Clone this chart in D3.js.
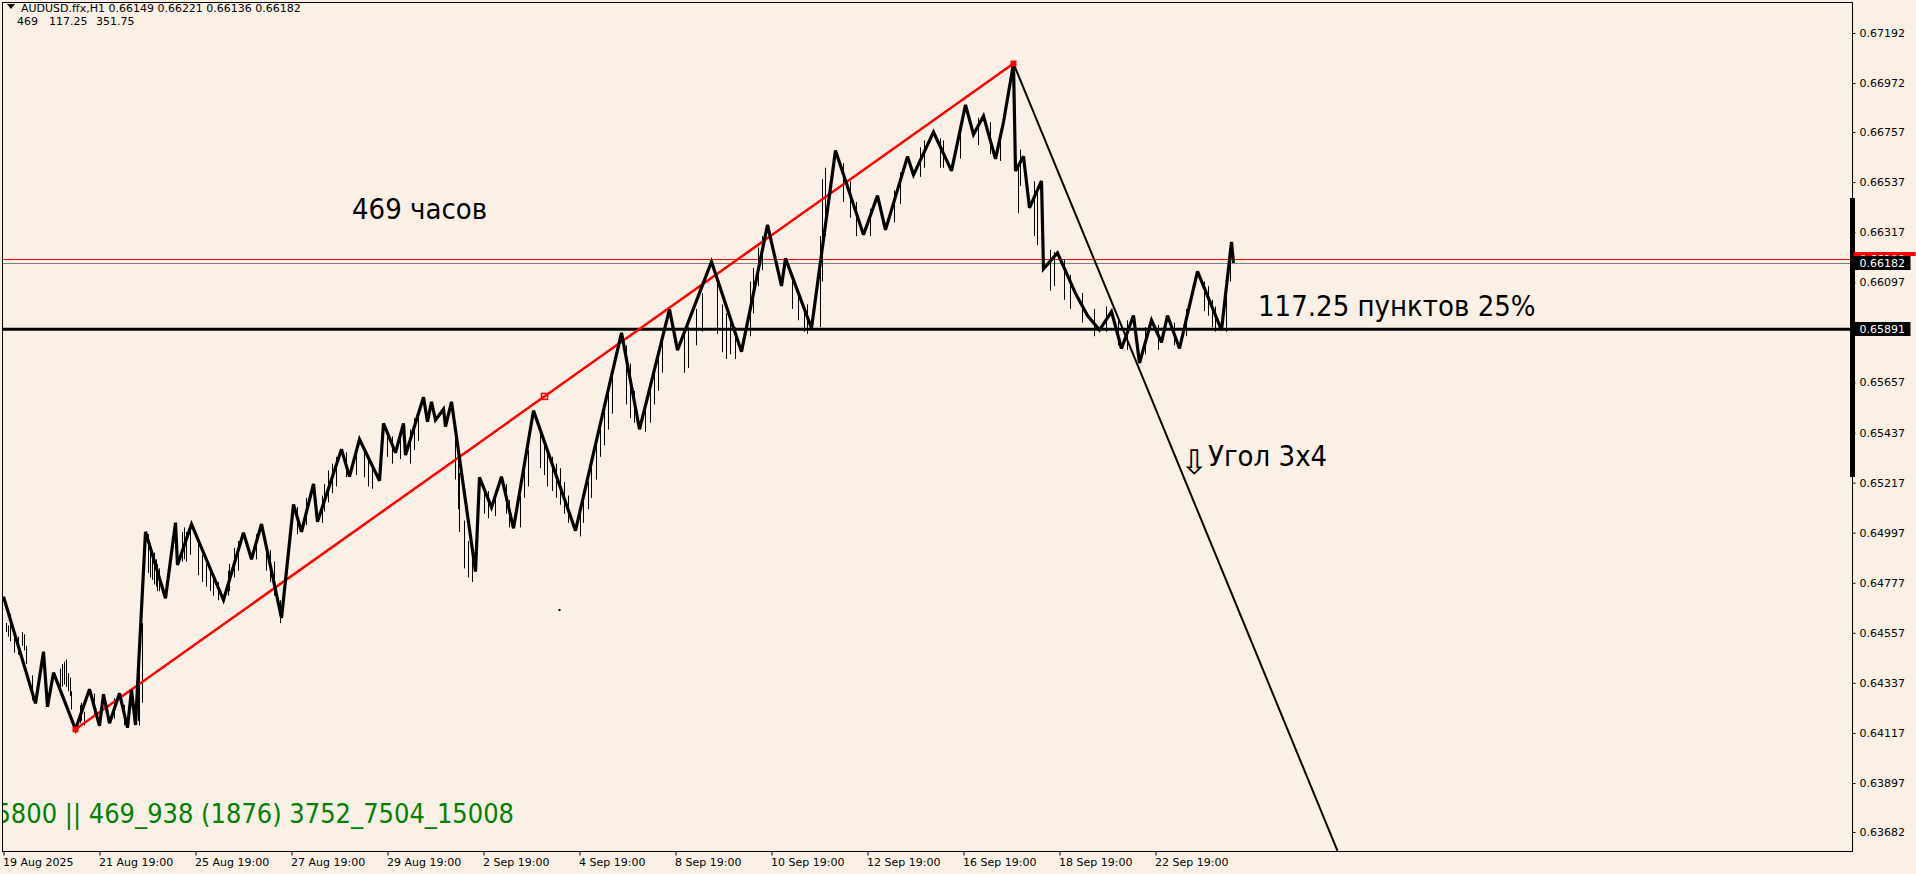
<!DOCTYPE html>
<html><head><meta charset="utf-8">
<script src="https://cdn.jsdelivr.net/npm/d3@7"></script>
<style>body{margin:0;background:#FAF0E6;overflow:hidden} svg{display:block}</style>
</head><body>
<svg id="c" width="1916" height="874"></svg>
<script>
// ---- data ----
const priceTicks = [0.67192,0.66972,0.66757,0.66537,0.66317,0.66097,0.65657,0.65437,0.65217,0.64997,0.64777,0.64557,0.64337,0.64117,0.63897,0.63682];
const timeTickBars = [0,48,96,144,192,240,288,336,384,432,480,528,576];
const timeLabels = ["19 Aug 2025","21 Aug 19:00","25 Aug 19:00","27 Aug 19:00","29 Aug 19:00","2 Sep 19:00","4 Sep 19:00","8 Sep 19:00","10 Sep 19:00","12 Sep 19:00","16 Sep 19:00","18 Sep 19:00","22 Sep 19:00"];
// zigzag vertices: [bar index, price]
const zigzag = [
[0,0.64716],[16,0.64247],[20,0.64474],[22,0.64232],[25,0.64382],[36,0.64133],[43,0.64309],[48,0.64148],[50,0.64287],[53,0.64160],[58,0.64291],[62,0.64140],[64,0.64306],[66,0.64152],
[71,0.65001],[81,0.64709],[86,0.65041],[87,0.64855],[94,0.65034],[110,0.64701],[120,0.64997],[124,0.64880],[129,0.65035],[139,0.64622],[145,0.65121],[149,0.65001],[155,0.65211],[157,0.65045],
[169,0.65363],[173,0.65243],[178,0.65407],[188,0.65225],[190,0.65477],[196,0.65348],[200,0.65477],[201,0.65338],[210,0.65592],[212,0.65484],[214,0.65572],[216,0.65492],[220,0.65539],[221,0.65463],[224,0.65572],
[236,0.64826],[238,0.65240],[244,0.65108],[249,0.65243],[255,0.65016],[265,0.65533],[286,0.65006],[309,0.65875],[318,0.65451],[333,0.65978],[337,0.65799],[354,0.66187],[369,0.65792],[382,0.66349],[389,0.66081],[391,0.66202],[404,0.65895],
[416,0.66676],[430,0.66306],[437,0.66478],[441,0.66327],[452,0.66649],[455,0.66569],[465,0.66757],[474,0.66586],[481,0.66876],[485,0.66746],[490,0.66827],[496,0.66639],[500,0.66801],[505,0.67058],
[506,0.66586],[510,0.66650],[513,0.66424],[519,0.66542],[520,0.66156],[527,0.66226],[536,0.66048],[542,0.65951],[548,0.65887],[554,0.65968],[559,0.65806],[565,0.65951],[568,0.65742],[574,0.65930],[579,0.65833],[582,0.65951],[588,0.65806],[593,0.65994],[597,0.66145],[609,0.65887],[614,0.66274],[615,0.66182]
];
// visible hourly bars poking out of the zigzag: [bar index, high, low]
const bars = [
[1,0.64600,0.64560],[2,0.64590,0.64540],[3,0.64640,0.64520],[5,0.64560,0.64470],[7,0.64540,0.64460],[9,0.64560,0.64500],[10,0.64550,0.64480],[11,0.64500,0.64420],[14,0.64370,0.64260],
[28,0.64400,0.64320],[29,0.64420,0.64320],[30,0.64430,0.64330],[31,0.64440,0.64320],[32,0.64380,0.64300],[33,0.64360,0.64280],[34,0.64300,0.64220],
[38,0.64240,0.64160],[39,0.64250,0.64170],[40,0.64210,0.64150],[45,0.64290,0.64190],[55,0.64270,0.64180],[60,0.64240,0.64150],[67,0.64380,0.64170],[68,0.64400,0.64150],[69,0.64600,0.64250],
[72,0.64990,0.64820],[73,0.64950,0.64800],[74,0.64920,0.64790],[75,0.64910,0.64770],[76,0.64880,0.64760],[77,0.64860,0.64740],[78,0.64840,0.64740],
[89,0.65000,0.64870],[90,0.65020,0.64880],[91,0.65000,0.64870],[93,0.65010,0.64900],[97,0.64950,0.64810],[99,0.64900,0.64780],[101,0.64860,0.64760],[103,0.64840,0.64740],[105,0.64800,0.64720],[107,0.64780,0.64700],
[112,0.64830,0.64720],[113,0.64860,0.64740],[115,0.64930,0.64800],[117,0.64960,0.64830],[126,0.64990,0.64880],[131,0.64950,0.64830],[133,0.64920,0.64780],[135,0.64870,0.64720],[138,0.64700,0.64600],
[147,0.65110,0.64990],[151,0.65150,0.65030],[159,0.65160,0.65040],[160,0.65210,0.65090],[162,0.65270,0.65130],[164,0.65300,0.65170],[166,0.65330,0.65200],[171,0.65350,0.65240],[176,0.65370,0.65250],[180,0.65360,0.65240],[182,0.65320,0.65200],[184,0.65290,0.65190],
[192,0.65450,0.65330],[194,0.65420,0.65300],[198,0.65430,0.65320],[203,0.65450,0.65300],[205,0.65500,0.65360],[207,0.65540,0.65400],
[226,0.65440,0.65230],[227,0.65350,0.65100],[228,0.65260,0.65000],[230,0.65050,0.64840],[232,0.64960,0.64800],[234,0.64920,0.64780],[240,0.65200,0.65080],[242,0.65180,0.65060],[246,0.65180,0.65070],[251,0.65210,0.65080],[253,0.65140,0.65020],
[258,0.65160,0.65020],[260,0.65280,0.65150],[262,0.65360,0.65200],[268,0.65450,0.65280],[270,0.65400,0.65250],[272,0.65360,0.65200],[274,0.65330,0.65180],[276,0.65300,0.65150],[278,0.65280,0.65120],[280,0.65220,0.65080],[282,0.65160,0.65040],
[288,0.65100,0.64980],[290,0.65160,0.65040],[292,0.65220,0.65100],[294,0.65300,0.65150],[296,0.65390,0.65230],[298,0.65500,0.65330],[300,0.65560,0.65380],[302,0.65620,0.65450],[304,0.65700,0.65520],
[311,0.65820,0.65560],[313,0.65740,0.65500],[315,0.65620,0.65480],[321,0.65560,0.65440],[323,0.65640,0.65480],[325,0.65720,0.65560],[327,0.65800,0.65620],[329,0.65870,0.65700],
[340,0.65880,0.65700],[342,0.65900,0.65720],[346,0.65980,0.65820],[349,0.66050,0.65880],[357,0.66100,0.65870],[359,0.66000,0.65790],[361,0.65960,0.65760],[363,0.65950,0.65780],[366,0.65900,0.65760],
[373,0.66100,0.65860],[375,0.66160,0.65960],[377,0.66250,0.66080],[379,0.66300,0.66150],[394,0.66130,0.65980],[397,0.66040,0.65930],[400,0.65990,0.65880],[402,0.66000,0.65870],
[408,0.66300,0.65900],[409,0.66550,0.66100],[411,0.66600,0.66300],[420,0.66620,0.66450],[423,0.66540,0.66380],[426,0.66450,0.66300],[433,0.66420,0.66300],[445,0.66500,0.66360],[448,0.66580,0.66440],[458,0.66690,0.66560],[460,0.66720,0.66600],[468,0.66730,0.66600],[470,0.66720,0.66600],[478,0.66800,0.66640],[487,0.66820,0.66700],[493,0.66800,0.66660],[498,0.66760,0.66630],
[507,0.66600,0.66400],[508,0.66680,0.66520],[515,0.66540,0.66300],[517,0.66500,0.66260],[523,0.66240,0.66060],[525,0.66230,0.66080],[530,0.66200,0.66020],[533,0.66130,0.65980],[539,0.66050,0.65920],[545,0.65980,0.65860],[551,0.65990,0.65880],[557,0.65930,0.65820],[562,0.65930,0.65800],[571,0.65900,0.65780],[577,0.65910,0.65800],[585,0.65920,0.65820],[591,0.65980,0.65860],[600,0.66100,0.65970],[602,0.66080,0.65950],[604,0.66020,0.65900],[606,0.65990,0.65880],[611,0.66050,0.65880],[613,0.66240,0.66100]
];
const trendPts = [[36,0.64133],[505,0.67058]];
const levelPrice = 0.65891;
const bidPrice = 0.66182, askPrice = 0.66199;
const anglePts = [[505,0.67058],[667,0.63599]];
const rangeBar = [0.66467,0.65241];
const dotPt = [278,0.64657];
const header1 = "AUDUSD.ffx,H1  0.66149 0.66221 0.66136 0.66182";
const header2 = ["469","117.25","351.75"];
const labelHours = "469 часов";
const labelPoints = "117.25 пунктов 25%";
const labelAngle = "Угол 3x4";
const labelSeq = "5800 || 469_938 (1876) 3752_7504_15008";

// ---- drawing ----
const W = 1916, H = 874;
const L = 2.5, T = 2.5, R = 1852.5, B = 851.5;
const svg = d3.select("#c");
svg.append("rect").attr("width",W).attr("height",H).attr("fill","#FAF0E6");
const x = d3.scaleLinear().domain([0,576]).range([3.5,1155.5]);
const y = d3.scaleLinear().domain([0.63682,0.67192]).range([832,33]);

const defs = svg.append("defs");
defs.append("clipPath").attr("id","pc").append("rect").attr("x",L).attr("y",T).attr("width",R-L).attr("height",B-T);
const g = svg.append("g").attr("clip-path","url(#pc)");

// bid/ask lines
g.append("line").attr("x1",L).attr("x2",R).attr("y1",Math.round(y(askPrice))+0.5).attr("y2",Math.round(y(askPrice))+0.5).attr("stroke","#FF0000").attr("stroke-width",1);
g.append("line").attr("x1",L).attr("x2",R).attr("y1",Math.round(y(bidPrice))+0.5).attr("y2",Math.round(y(bidPrice))+0.5).attr("stroke","#808080").attr("stroke-width",1);

// thin bars
g.selectAll("line.bar").data(bars).enter().append("line").attr("class","bar")
  .attr("x1",d=>Math.round(x(d[0]))+0.5).attr("x2",d=>Math.round(x(d[0]))+0.5)
  .attr("y1",d=>y(d[1])).attr("y2",d=>y(d[2])).attr("stroke","#000").attr("stroke-width",1);

// horizontal level
g.append("line").attr("x1",L).attr("x2",R).attr("y1",y(levelPrice)).attr("y2",y(levelPrice)).attr("stroke","#000").attr("stroke-width",3);

// trend line red
const line = d3.line().x(d=>x(d[0])).y(d=>y(d[1]));
g.append("path").attr("d",line(trendPts)).attr("stroke","#FF0000").attr("stroke-width",2.5).attr("fill","none");

// zigzag
g.append("path").attr("d",line(zigzag)).attr("stroke","#000").attr("stroke-width",3.2).attr("fill","none").attr("stroke-linejoin","miter").attr("stroke-miterlimit",3);

// angle line
g.append("path").attr("d",line(anglePts)).attr("stroke","#000").attr("stroke-width",2).attr("fill","none");

// trend markers
const mid = [(trendPts[0][0]+trendPts[1][0])/2,(trendPts[0][1]+trendPts[1][1])/2];
[trendPts[0],trendPts[1]].forEach(p=>{
  g.append("rect").attr("x",x(p[0])-3).attr("y",y(p[1])-3).attr("width",6).attr("height",6).attr("fill","#FF0000");
});
g.append("rect").attr("x",x(mid[0])-3).attr("y",y(mid[1])-3).attr("width",6).attr("height",6).attr("fill","none").attr("stroke","#FF0000").attr("stroke-width",1.5);

// dot
g.append("rect").attr("x",x(dotPt[0])-1).attr("y",y(dotPt[1])-1).attr("width",2).attr("height",2).attr("fill","#000");

// texts in chart
const bigFont = "'DejaVu Sans Condensed','DejaVu Sans',sans-serif";
g.append("text").attr("x",352).attr("y",219).attr("font-family",bigFont).attr("font-size",29).attr("fill","#000").text(labelHours);
g.append("text").attr("x",1258).attr("y",316).attr("font-family",bigFont).attr("font-size",29).attr("fill","#000").text(labelPoints);
g.append("text").attr("x",1180).attr("y",474).attr("font-family","'DejaVu Sans',sans-serif").attr("font-size",34).attr("fill","#000").text("⇩");
g.append("text").attr("x",1208).attr("y",466).attr("font-family",bigFont).attr("font-size",29).attr("fill","#000").text(labelAngle);
g.append("text").attr("x",514).attr("y",823).attr("text-anchor","end").attr("font-family",bigFont).attr("font-size",26.95).attr("fill","#008000").text(labelSeq);

// frame
svg.append("rect").attr("x",L).attr("y",T).attr("width",R-L).attr("height",B-T).attr("fill","none").attr("stroke","#000").attr("stroke-width",1);

// right axis
const axisFont = "'DejaVu Sans',sans-serif";
const ya = svg.append("g").attr("transform",`translate(${R},0)`)
  .call(d3.axisRight(y).tickValues(priceTicks).tickFormat(d3.format(".5f")).tickSize(3).tickPadding(4));
ya.select(".domain").remove();
ya.selectAll("text").attr("font-family",axisFont).attr("font-size",11).attr("fill","#000");
ya.selectAll("line").attr("stroke","#000");

// range bar on axis
svg.append("line").attr("x1",R).attr("x2",R).attr("y1",y(rangeBar[0])).attr("y2",y(rangeBar[1])).attr("stroke","#000").attr("stroke-width",5);

// bottom axis
const xa = svg.append("g").attr("transform",`translate(0,${B})`)
  .call(d3.axisBottom(x).tickValues(timeTickBars).tickFormat((d,k)=>timeLabels[k]).tickSize(4).tickPadding(3));
xa.select(".domain").remove();
xa.selectAll("text").attr("font-family",axisFont).attr("font-size",11).attr("fill","#000").attr("text-anchor","start").attr("dx",-1);
xa.selectAll("line").attr("stroke","#000");

// price labels on axis
const askY = Math.round(y(askPrice)), bidY = Math.round(y(bidPrice));
defs.append("clipPath").attr("id","askclip").append("rect").attr("x",R).attr("y",askY-8).attr("width",63).attr("height",Math.max(1,(bidY-7)-(askY-8)));
const askG = svg.append("g").attr("clip-path","url(#askclip)");
askG.append("rect").attr("x",R+1).attr("y",askY-7).attr("width",63).attr("height",14).attr("fill","#FF0000");
askG.append("text").attr("x",R+7).attr("y",askY+4).attr("font-family",axisFont).attr("font-size",11).attr("fill","#FFFFFF").text(d3.format(".5f")(askPrice));
function priceBox(p, bg, fg){
  const yy = Math.round(y(p));
  svg.append("rect").attr("x",R+1).attr("y",yy-7).attr("width",57).attr("height",14).attr("fill",bg);
  svg.append("text").attr("x",R+7).attr("y",yy+4).attr("font-family",axisFont).attr("font-size",11).attr("fill",fg).text(d3.format(".5f")(p));
}
priceBox(bidPrice,"#000000","#FFFFFF");
priceBox(levelPrice,"#000000","#FFFFFF");

// header
svg.append("path").attr("d","M7,4 L15,4 L11,9 Z").attr("fill","#000");
svg.append("text").attr("x",21).attr("y",12).attr("font-family",axisFont).attr("font-size",11).attr("fill","#000").text(header1);
const hx = [17,49,96];
header2.forEach((t,k)=>svg.append("text").attr("x",hx[k]).attr("y",25).attr("font-family",axisFont).attr("font-size",11).attr("fill","#000").text(t));
</script>
</body></html>
